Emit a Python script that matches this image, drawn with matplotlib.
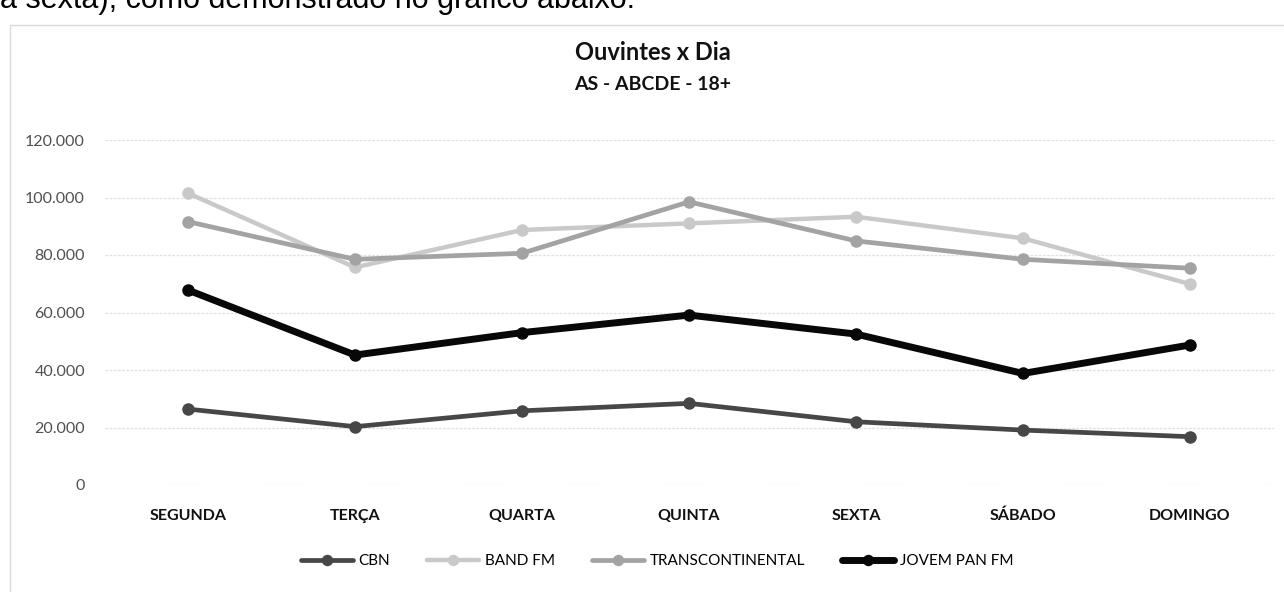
import matplotlib
matplotlib.use("Agg")
import matplotlib.pyplot as plt
import matplotlib.patches as mpatches
from matplotlib.ticker import FuncFormatter

# ── data ─────────────────────────────────────────────────────────────────────
dias = ["SEGUNDA", "TERÇA", "QUARTA", "QUINTA", "SEXTA", "SÁBADO", "DOMINGO"]
cbn = [26400, 20300, 25800, 28400, 22000, 19100, 16800]
band_fm = [101500, 75700, 88700, 91000, 93300, 85800, 69900]
transcontinental = [91600, 78500, 80600, 98500, 84900, 78500, 75400]
jovem_pan = [67800, 45200, 53000, 59100, 52500, 38800, 48700]

series = [
    ("CBN", cbn, "#474747", 3.4),
    ("BAND FM", band_fm, "#c9c9c9", 3.2),
    ("TRANSCONTINENTAL", transcontinental, "#a3a3a3", 3.4),
    ("JOVEM PAN FM", jovem_pan, "#080808", 5.0),
]

plt.rcParams["font.family"] = ["Lato", "DejaVu Sans"]

fig = plt.figure(figsize=(12.84, 5.92), dpi=100)

# text line of the scanned page, cut off at the top
fig.text(0.0, 1 - 8 / 592, "a sexta), como demonstrado no gráfico abaixo.",
         family="Liberation Sans", fontsize=22, va="baseline", ha="left", color="black")

# chart frame
fig.patches.append(mpatches.Rectangle((10 / 1284, -0.1), 1.1, 1.1 - 25 / 592,
                                      transform=fig.transFigure, fill=False,
                                      edgecolor="#d9d9d9", linewidth=1.0))

ax = fig.add_axes([104.5 / 1284, 1 - 485 / 592, 1169 / 1284, 345 / 592])
x = range(len(dias))
for name, vals, color, lw in series:
    ax.plot(x, vals, color=color, linewidth=lw, marker="o", markersize=8,
            label=name, solid_capstyle="round")

ax.set_xlim(-0.5, len(dias) - 0.5)
ax.set_ylim(0, 120000)
ax.set_yticks(range(0, 120001, 20000))
ax.yaxis.set_major_formatter(FuncFormatter(lambda v, p: f"{int(v):,}".replace(",", ".")))
ax.set_xticks(list(x))
ax.set_xticklabels(dias, fontweight="bold", fontsize=11.5, color="#111111")
ax.tick_params(axis="x", length=0, pad=17)
ax.tick_params(axis="y", length=0, pad=14, labelsize=11.5, labelcolor="#505050")
ax.grid(True, axis="y", color="#dde3e3", linewidth=1.0, linestyle=(0, (2, 1)))
ax.set_axisbelow(True)
for s in ax.spines.values():
    s.set_visible(False)

fig.text(653 / 1284, 1 - 53 / 592, "Ouvintes x Dia", ha="center", va="center",
         fontsize=17, fontweight="bold", color="#111111")
fig.text(653 / 1284, 1 - 84 / 592, "AS - ABCDE - 18+", ha="center", va="center",
         fontsize=14, fontweight="bold", color="#111111")

fig.legend(loc="center", bbox_to_anchor=(657 / 1284, 1 - 561 / 592), ncol=4,
           frameon=False, fontsize=11, handlelength=3.4, columnspacing=2.4,
           handletextpad=0.4, markerscale=0.9)

plt.savefig("out.png", dpi=100)
plt.close()
print("Saved: out.png")
